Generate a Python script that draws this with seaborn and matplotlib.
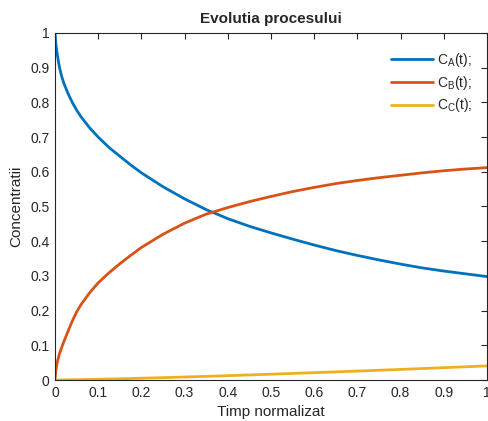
import numpy as np
import pandas as pd
import matplotlib
matplotlib.use("Agg")
import matplotlib.pyplot as plt
import seaborn as sns
from matplotlib.ticker import FuncFormatter, MultipleLocator

t = [0, 0.002, 0.005, 0.01, 0.015, 0.02, 0.03, 0.04, 0.05, 0.06, 0.08, 0.1,
     0.125, 0.15, 0.175, 0.2, 0.25, 0.3, 0.35, 0.4, 0.45, 0.5, 0.55, 0.6,
     0.65, 0.7, 0.75, 0.8, 0.85, 0.9, 0.95, 1.0]
c_a = [1.000, 0.968, 0.940, 0.903, 0.877, 0.857, 0.826, 0.800, 0.778, 0.759,
       0.727, 0.700, 0.670, 0.645, 0.620, 0.597, 0.557, 0.522, 0.491, 0.465,
       0.443, 0.424, 0.406, 0.389, 0.373, 0.359, 0.346, 0.334, 0.323, 0.314,
       0.306, 0.298]
c_b = [0.000, 0.028, 0.050, 0.074, 0.092, 0.109, 0.140, 0.170, 0.196, 0.217,
       0.251, 0.280, 0.309, 0.335, 0.359, 0.382, 0.420, 0.452, 0.478, 0.497,
       0.514, 0.529, 0.543, 0.555, 0.566, 0.575, 0.583, 0.590, 0.597, 0.603,
       0.608, 0.612]
c_c = [0.0, 0.0, 0.0, 0.0001, 0.0002, 0.0003, 0.0005, 0.0007, 0.0009, 0.0011,
       0.0016, 0.0021, 0.0028, 0.0035, 0.0043, 0.0051, 0.0068, 0.0086, 0.0105,
       0.0125, 0.0146, 0.0167, 0.0189, 0.0211, 0.0234, 0.0257, 0.0281, 0.0305,
       0.0330, 0.0355, 0.0381, 0.0407]
labels = [r"C$_\mathregular{A}$(t);", r"C$_\mathregular{B}$(t);", r"C$_\mathregular{C}$(t);"]
colors = ["#0072BD", "#D95319", "#EDB120"]

df = pd.concat([
    pd.DataFrame({"t": t, "c": vals, "serie": lab})
    for vals, lab in zip([c_a, c_b, c_c], labels)
])

sns.set_style("white")
plt.rcParams["font.family"] = ["Liberation Sans", "DejaVu Sans"]

fig = plt.figure(figsize=(4.89, 4.21), dpi=100)
ax = fig.add_axes([55 / 489, 41 / 421, 432 / 489, 347 / 421])

sns.lineplot(data=df, x="t", y="c", hue="serie", palette=colors,
             linewidth=2.0, ax=ax, sort=False, estimator=None)

ax.set_xlim(0, 1)
ax.set_ylim(0, 1)
ax.xaxis.set_major_locator(MultipleLocator(0.1))
ax.yaxis.set_major_locator(MultipleLocator(0.1))
fmt = FuncFormatter(lambda v, p: f"{v:.1f}".rstrip("0").rstrip(".") if abs(v) > 1e-9 else "0")
ax.xaxis.set_major_formatter(fmt)
ax.yaxis.set_major_formatter(fmt)
ax.tick_params(direction="in", length=4, width=0.8, colors="#262626",
               labelsize=10, top=True, right=True, pad=4)
for s in ax.spines.values():
    s.set_visible(True)
    s.set_color("#262626")
    s.set_linewidth(0.8)

ax.set_xlabel("Timp normalizat", fontsize=11, color="#262626", labelpad=4)
ax.set_ylabel("Concentratii", fontsize=11, color="#262626", labelpad=5)
ax.set_title("Evolutia procesului", fontsize=11, fontweight="bold", pad=7)

ax.legend(loc="upper right", frameon=False, fontsize=10, handlelength=3.0,
          handletextpad=0.3, labelspacing=0.35, bbox_to_anchor=(0.995, 0.985))

fig.savefig("out.png", dpi=100)
